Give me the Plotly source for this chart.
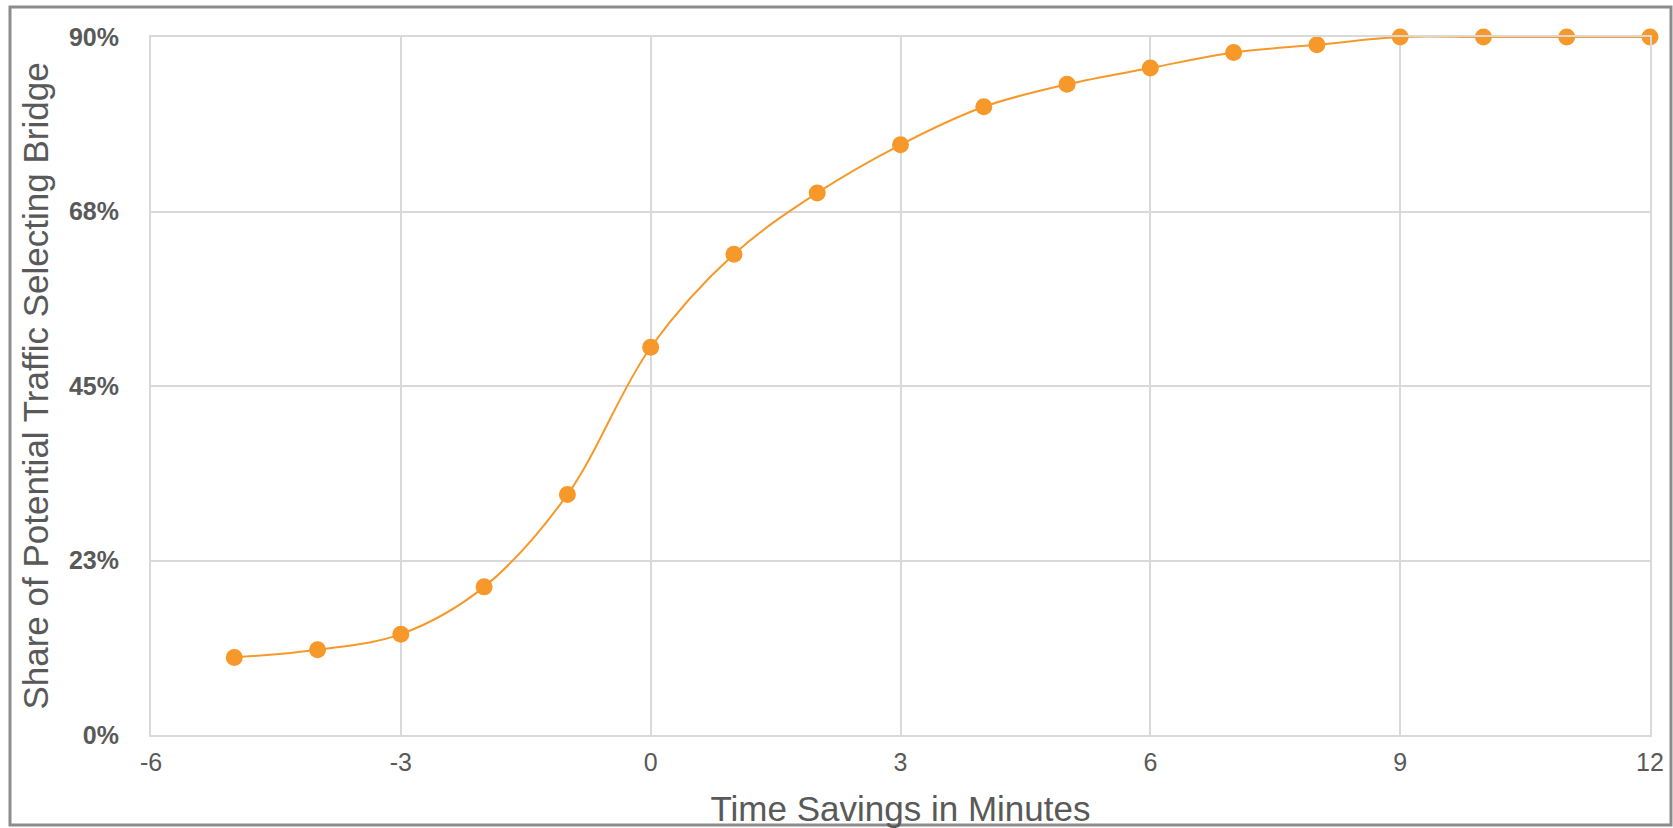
import plotly.graph_objects as go

time_savings = [-5, -4, -3, -2, -1, 0, 1, 2, 3, 4, 5, 6, 7, 8, 9, 10, 11, 12]
share_pct = [10.0, 11.0, 13.0, 19.1, 31.0, 50.0, 62.0, 69.9, 76.1, 81.0, 83.9, 86.0, 88.0, 89.0, 90.0, 90.0, 90.0, 90.0]
y_tick_vals = [0, 22.5, 45, 67.5, 90]
y_tick_text = ["0%", "23%", "45%", "68%", "90%"]
x_tick_vals = [-6, -3, 0, 3, 6, 9, 12]
x_tick_text = ["-6", "-3", "0", "3", "6", "9", "12"]

ORANGE = "#F7992A"
GRID = "#D9D9D9"
TEXT = "#595959"

fig = go.Figure()
fig.add_trace(go.Scatter(
    x=time_savings, y=share_pct, mode="lines+markers",
    line=dict(color=ORANGE, width=2, shape="spline", smoothing=1),
    marker=dict(color=ORANGE, size=17),
    cliponaxis=False, showlegend=False,
))

W, H = 1673, 828
L, R, T, B = 151, 23, 37, 93
pw, ph = W - L - R, H - T - B

fig.update_layout(
    width=W, height=H,
    margin=dict(l=L, r=R, t=T, b=B),
    paper_bgcolor="white", plot_bgcolor="white",
    font=dict(family="Liberation Sans, Arial, sans-serif", color=TEXT),
    xaxis=dict(
        range=[-6, 12], tickvals=x_tick_vals, ticktext=x_tick_text, showgrid=True,
        gridcolor=GRID, gridwidth=2, automargin=False,
        showline=True, linecolor=GRID, linewidth=2, mirror=True, zeroline=False,
        ticks="", tickfont=dict(size=25, color=TEXT), ticklabelstandoff=4,
        title=dict(text="Time Savings in Minutes", font=dict(size=35, color=TEXT), standoff=22),
    ),
    yaxis=dict(
        range=[0, 90], tickvals=y_tick_vals, ticktext=y_tick_text, showgrid=True,
        gridcolor=GRID, gridwidth=2, showline=True, linecolor=GRID, linewidth=2,
        mirror=True, zeroline=False, ticks="", automargin=False,
        tickfont=dict(size=25, color=TEXT, weight="bold"), ticklabelstandoff=25,
        title=dict(text="Share of Potential Traffic Selecting Bridge", font=dict(size=35, color=TEXT), standoff=10),
    ),
    shapes=[dict(
        type="rect", xref="paper", yref="paper",
        x0=(10 - L) / pw, x1=(1671 - L) / pw,
        y0=(H - B - 825) / ph, y1=(H - B - 7) / ph,
        line=dict(color="#8C8C8C", width=3), layer="below",
    )],
)

fig.write_html(
    "out.html",
    config={"displayModeBar": False},
    post_script="document.body.style.margin='0';document.body.style.overflow='hidden';",
)
